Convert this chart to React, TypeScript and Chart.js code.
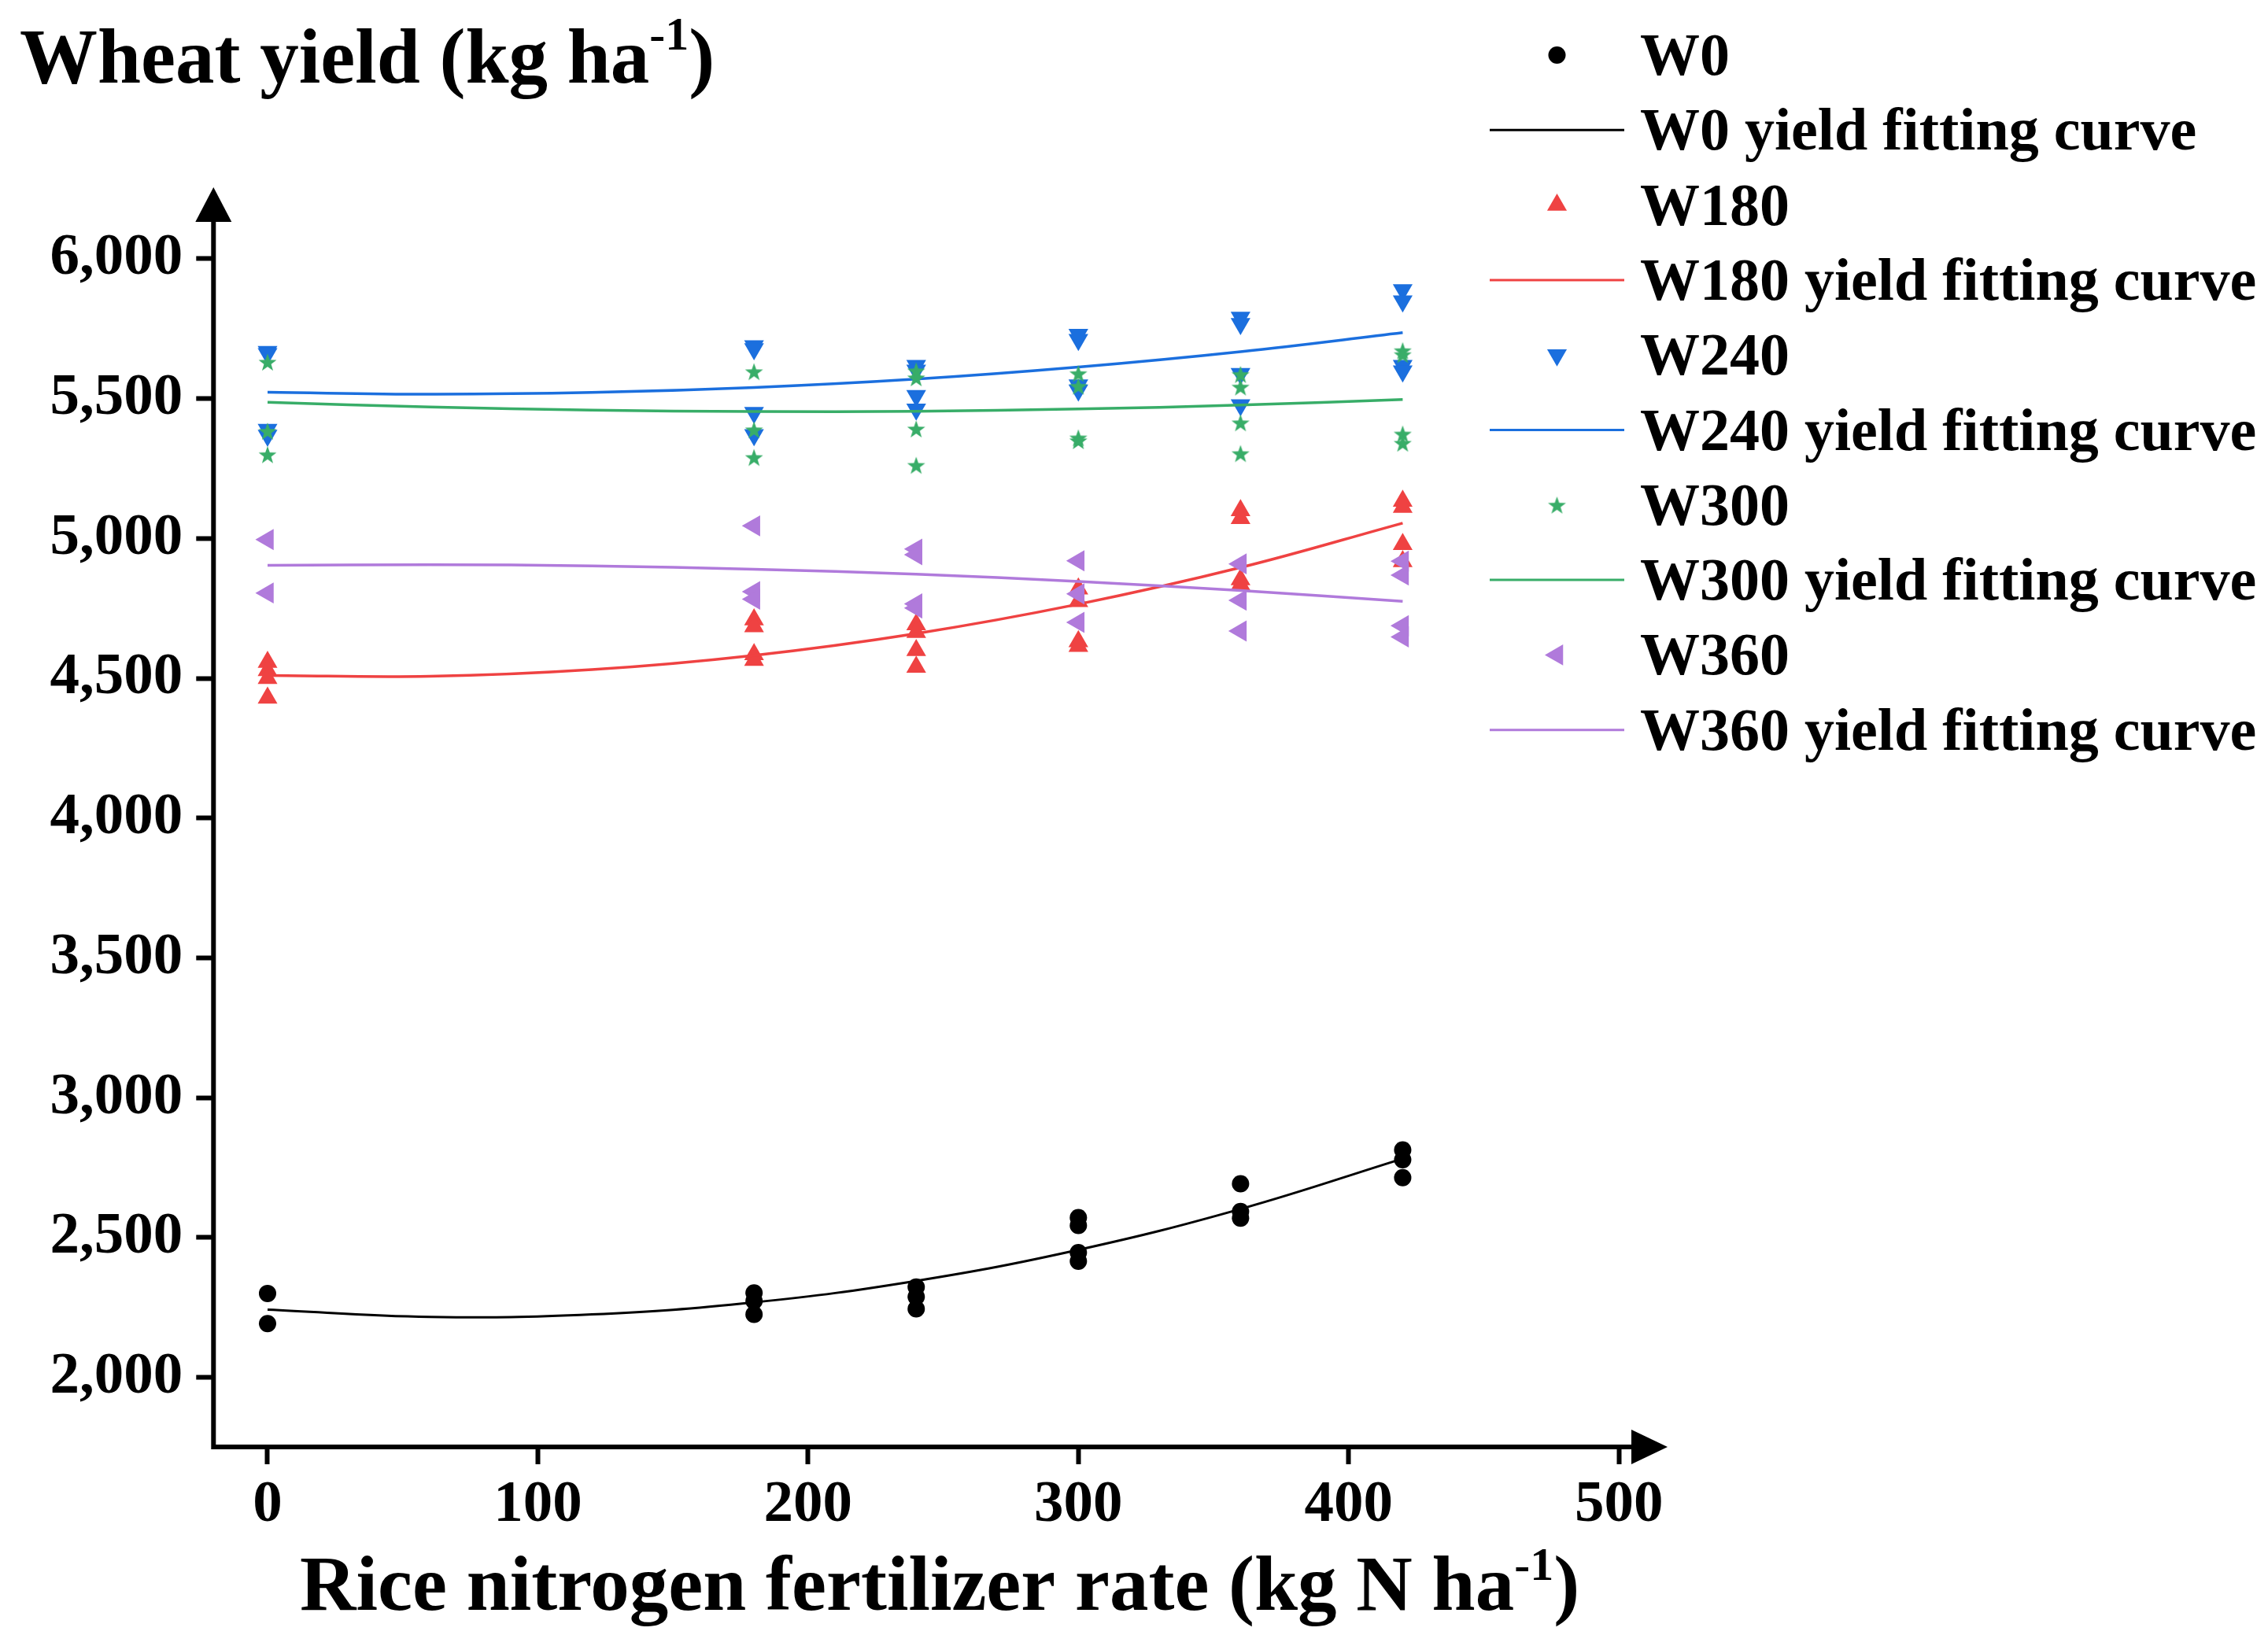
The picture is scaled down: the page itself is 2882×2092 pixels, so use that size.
import React, { useEffect, useRef } from "react";
import { Chart, registerables } from "chart.js";
import { drawPoint } from "chart.js/helpers";

Chart.register(...registerables);

const FONT = "'Liberation Serif', 'Times New Roman', Times, serif";

// rice N rates (kg N ha-1) at which wheat was harvested
const riceRates = [0, 180, 240, 300, 360, 420];

// replicate wheat yields, one list per rice rate (same order as riceRates)
const w0Obs = [[2300, 2192], [2302, 2273, 2225], [2323, 2288, 2245], [2571, 2543, 2446, 2415], [2692, 2593, 2569], [2813, 2778, 2714]];
const w180Obs = [[4558, 4528, 4500, 4430], [4710, 4685, 4585, 4565], [4692, 4665, 4600, 4540], [4820, 4775, 4632, 4615], [5100, 5072, 4853, 4835], [5134, 5112, 4979, 4918]];
const w240Obs = [[5668, 5660, 5389, 5368], [5688, 5678, 5450, 5370], [5618, 5601, 5510, 5462], [5729, 5711, 5548, 5530], [5790, 5768, 5589, 5477], [5889, 5849, 5618, 5598]];
const w300Obs = [[5631, 5384, 5300], [5597, 5389, 5290], [5600, 5575, 5392, 5262], [5590, 5545, 5360, 5350], [5587, 5542, 5414, 5304], [5672, 5658, 5374, 5341]];
const w360Obs = [[4996, 4805], [5045, 4810, 4783], [4962, 4942, 4766, 4751], [4920, 4802, 4700], [4909, 4779, 4669], [4919, 4869, 4688, 4648]];

// points
const fitRates = [0, 60, 120, 180, 240, 300, 360, 420];
const w0Fit = [2242, 2216, 2225, 2268, 2345, 2456, 2602, 2782];
const w180Fit = [4510, 4507, 4531, 4582, 4660, 4765, 4896, 5055];
const w240Fit = [5523, 5516, 5522, 5540, 5570, 5613, 5668, 5736];
const w300Fit = [5487, 5470, 5459, 5454, 5455, 5463, 5477, 5497];
const w360Fit = [4904, 4906, 4902, 4890, 4872, 4846, 4814, 4775];

const treatments = ["W0", "W180", "W240", "W300", "W360"];
const xTicks = [0, 100, 200, 300, 400, 500];
const yTicks = [2000, 2500, 3000, 3500, 4000, 4500, 5000, 5500, 6000];

const colors = ["#000000", "#EF4242", "#1B6FDE", "#38AD68", "#B07ADB"];
const markers = [
  { style: "circle", radius: 11, rotation: 0 },
  { style: "triangle", radius: 14.5, rotation: 0 },
  { style: "triangle", radius: 14.5, rotation: 180 },
  { style: "star", radius: 12, rotation: 0 },
  { style: "triangle", radius: 15.5, rotation: -90 },
];

// filled five-point star (Chart.js "star" is only an asterisk)
function makeStar(color: string, r: number): HTMLCanvasElement {
  const size = Math.ceil(r * 2) + 2;
  const c = document.createElement("canvas");
  c.width = size;
  c.height = size;
  const g = c.getContext("2d")!;
  const cx = size / 2;
  const cy = size / 2 + r * 0.1;
  g.beginPath();
  for (let k = 0; k < 10; k++) {
    const a = -Math.PI / 2 + (k * Math.PI) / 5;
    const rr = k % 2 === 0 ? r : r * 0.4;
    const px = cx + Math.cos(a) * rr;
    const py = cy + Math.sin(a) * rr;
    if (k === 0) g.moveTo(px, py);
    else g.lineTo(px, py);
  }
  g.closePath();
  g.fillStyle = color;
  g.fill();
  return c;
}

function drawSupText(
  ctx: CanvasRenderingContext2D,
  x: number,
  baseline: number,
  main: string,
  sup: string,
  tail: string,
  size: number,
  supSize: number,
  rise: number
) {
  ctx.font = `bold ${size}px ${FONT}`;
  ctx.fillText(main, x, baseline);
  x += ctx.measureText(main).width;
  ctx.font = `bold ${supSize}px ${FONT}`;
  ctx.fillText(sup, x, baseline - rise);
  x += ctx.measureText(sup).width;
  ctx.font = `bold ${size}px ${FONT}`;
  ctx.fillText(tail, x, baseline);
}

const axesAndTitles = {
  id: "axesAndTitles",
  afterDraw(chart: any) {
    const { ctx, chartArea: a } = chart;
    ctx.save();
    ctx.fillStyle = "#000";
    ctx.strokeStyle = "#000";
    ctx.lineWidth = 6;
    ctx.beginPath();
    ctx.moveTo(a.left, a.bottom + 3);
    ctx.lineTo(a.left, a.top + 40);
    ctx.moveTo(a.left - 3, a.bottom);
    ctx.lineTo(a.right - 40, a.bottom);
    ctx.stroke();
    // arrow heads
    ctx.beginPath();
    ctx.moveTo(a.left, a.top);
    ctx.lineTo(a.left - 23, a.top + 44);
    ctx.lineTo(a.left + 23, a.top + 44);
    ctx.closePath();
    ctx.fill();
    ctx.beginPath();
    ctx.moveTo(a.right, a.bottom);
    ctx.lineTo(a.right - 46, a.bottom - 22);
    ctx.lineTo(a.right - 46, a.bottom + 22);
    ctx.closePath();
    ctx.fill();

    ctx.textAlign = "left";
    ctx.textBaseline = "alphabetic";
    drawSupText(ctx, 17, 97, "Wheat yield (kg ha", "-1", ")", 99, 60, 42);
    drawSupText(ctx, 373, 2038, "Rice nitrogen fertilizer rate (kg N ha", "-1", ")", 99, 60, 38);
    ctx.restore();
  },
};

const sideLegend = {
  id: "sideLegend",
  afterDraw(chart: any) {
    const { ctx } = chart;
    const top = 62;
    const gap = 95.3;
    const lineX0 = 1885;
    const lineX1 = 2056;
    const textX = 2076;
    ctx.save();
    chart.data.datasets.forEach((ds: any, i: number) => {
      const cy = top + i * gap;
      if (ds.type === "line") {
        ctx.strokeStyle = ds.borderColor;
        ctx.lineWidth = 3;
        ctx.beginPath();
        ctx.moveTo(lineX0, cy);
        ctx.lineTo(lineX1, cy);
        ctx.stroke();
      } else {
        ctx.fillStyle = ds.pointBackgroundColor;
        drawPoint(
          ctx,
          { pointStyle: ds.pointStyle, radius: ds.pointRadius, rotation: ds.pointRotation, borderWidth: 0 } as any,
          (lineX0 + lineX1) / 2,
          cy
        );
      }
      ctx.fillStyle = "#000";
      ctx.font = `bold 76px ${FONT}`;
      ctx.textAlign = "left";
      ctx.textBaseline = "alphabetic";
      ctx.fillText(ds.label, textX, cy + 25);
    });
    ctx.restore();
  },
};

export default function App() {
  const canvasRef = useRef<HTMLCanvasElement | null>(null);

  useEffect(() => {
    if (!canvasRef.current) return;

    const obsSets = [w0Obs, w180Obs, w240Obs, w300Obs, w360Obs];
    const fitSets = [w0Fit, w180Fit, w240Fit, w300Fit, w360Fit];
    const datasets: any[] = [];
    treatments.forEach((name, t) => {
      const m = markers[t];
      datasets.push({
        type: "scatter",
        label: name,
        data: obsSets[t].flatMap((vals, k) => vals.map((v) => ({ x: riceRates[k], y: v }))),
        pointStyle: m.style === "star" ? makeStar(colors[t], m.radius) : m.style,
        pointRadius: m.radius,
        pointRotation: m.rotation,
        pointBackgroundColor: colors[t],
        pointBorderWidth: 0,
        borderColor: colors[t],
        backgroundColor: colors[t],
      });
      datasets.push({
        type: "line",
        label: `${name} yield fitting curve`,
        data: fitRates.map((x, k) => ({ x, y: fitSets[t][k] })),
        borderColor: colors[t],
        borderWidth: t === 0 ? 3 : 3.5,
        pointRadius: 0,
        tension: 0.4,
        fill: false,
      });
    });
    // later datasets drawn on top
    datasets.forEach((ds, i) => (ds.order = datasets.length - i));

    const chart = new Chart(canvasRef.current, {
      type: "scatter",
      data: { datasets },
      options: {
        animation: false,
        responsive: true,
        maintainAspectRatio: false,
        layout: { padding: { top: 230, right: 755, left: 0, bottom: 0 } },
        plugins: { legend: { display: false }, tooltip: { enabled: false } },
        scales: {
          x: {
            type: "linear",
            min: -20,
            max: 518,
            border: { display: false },
            grid: { drawOnChartArea: false, drawTicks: true, tickLength: 22, tickWidth: 6, tickColor: "#000", color: "#000" },
            ticks: {
              color: "#000",
              font: { family: FONT, size: 75, weight: "bold" },
              padding: 8,
              maxRotation: 0,
              autoSkip: false,
            },
            afterBuildTicks: (scale: any) => {
              scale.ticks = xTicks.map((v) => ({ value: v }));
            },
            afterFit: (scale: any) => {
              scale.height = 245;
            },
          },
          y: {
            type: "linear",
            min: 1751,
            max: 6256,
            border: { display: false },
            grid: { drawOnChartArea: false, drawTicks: true, tickLength: 22, tickWidth: 6, tickColor: "#000", color: "#000" },
            ticks: {
              color: "#000",
              font: { family: FONT, size: 75, weight: "bold" },
              padding: 17,
              autoSkip: false,
              callback: (v: any) => Number(v).toLocaleString("en-US"),
            },
            afterBuildTicks: (scale: any) => {
              scale.ticks = yTicks.map((v) => ({ value: v }));
            },
            afterFit: (scale: any) => {
              scale.width = 263.3;
            },
          },
        },
      } as any,
      plugins: [axesAndTitles, sideLegend],
    });

    return () => chart.destroy();
  }, []);

  return (
    <div style={{ position: "relative", width: 2866, height: 2076 }}>
      <canvas ref={canvasRef} />
    </div>
  );
}
